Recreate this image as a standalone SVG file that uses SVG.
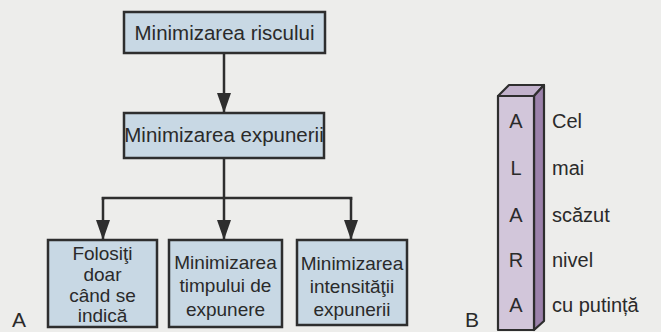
<svg xmlns="http://www.w3.org/2000/svg" width="661" height="332" viewBox="0 0 661 332">
  <style>
    .box { fill: #c8d8e4; stroke: #2e2e2e; stroke-width: 2.5; }
    .t { font-family: "Liberation Sans", Arial, sans-serif; fill: #2a2a2a; text-anchor: middle; }
    .tb { font-size: 20.5px; }
    .ts { font-size: 19px; }
    .col { font-family: "Liberation Sans", Arial, sans-serif; font-size: 20px; fill: #2a2a2a; }
    .lbl { font-family: "Liberation Sans", Arial, sans-serif; font-size: 21px; fill: #2a2a2a; }
    .conn { stroke: #2e2e2e; stroke-width: 2.5; fill: none; }
    .face { stroke: #2e2e2e; stroke-width: 2.2; stroke-linejoin: round; }
  </style>
  <defs>
    <marker id="arr" markerUnits="userSpaceOnUse" markerWidth="20" markerHeight="14" refX="20" refY="7" orient="auto">
      <path d="M0,0 L20,7 L0,14 z" fill="#2e2e2e"/>
    </marker>
  </defs>
  <rect x="0" y="0" width="661" height="332" fill="#ededeb"/>

  <g id="connectors">
    <line class="conn" x1="224" y1="53" x2="224" y2="113" marker-end="url(#arr)"/>
    <line class="conn" x1="224" y1="158" x2="224" y2="240" marker-end="url(#arr)"/>
    <polyline class="conn" points="103,200 103,198 351,198 351,200"/>
    <line class="conn" x1="103" y1="197" x2="103" y2="240" marker-end="url(#arr)"/>
    <line class="conn" x1="351" y1="197" x2="351" y2="240" marker-end="url(#arr)"/>
  </g>

  <g id="node-risc">
    <rect class="box" x="124" y="12" width="201" height="41"/>
    <text class="t tb" x="224.5" y="40">Minimizarea riscului</text>
  </g>
  <g id="node-expunere">
    <rect class="box" x="124" y="113" width="200" height="45"/>
    <text class="t tb" x="224" y="142">Minimizarea expunerii</text>
  </g>
  <g id="node-folositi">
    <rect class="box" x="48" y="240" width="109" height="87"/>
    <text class="t ts" x="102.5" y="260">Folosiţi</text>
    <text class="t ts" x="102.5" y="281">doar</text>
    <text class="t ts" x="102.5" y="302">când se</text>
    <text class="t ts" x="102.5" y="322">indică</text>
  </g>
  <g id="node-timp">
    <rect class="box" x="169" y="240" width="113" height="87"/>
    <text class="t ts" x="225.5" y="269">Minimizarea</text>
    <text class="t ts" x="225.5" y="292">timpului de</text>
    <text class="t ts" x="225.5" y="316">expunere</text>
  </g>
  <g id="node-intensitate">
    <rect class="box" x="297" y="240" width="110" height="85"/>
    <text class="t ts" x="352" y="270">Minimizarea</text>
    <text class="t ts" x="352" y="293">intensităţii</text>
    <text class="t ts" x="352" y="316">expunerii</text>
  </g>

  <text class="lbl" x="12" y="327">A</text>
  <text class="lbl" x="465" y="327">B</text>

  <g id="alara-column">
    <polygon class="face" fill="#c2b2cc" points="498,96 509,85 544,85 534,96"/>
    <polygon class="face" fill="#9c82ab" points="534,96 544,85 544,321 534,330"/>
    <rect class="face" fill="#d2c6da" x="498" y="96" width="36" height="234"/>
    <text class="col" x="516" y="128" text-anchor="middle">A</text>
    <text class="col" x="516" y="175" text-anchor="middle">L</text>
    <text class="col" x="516" y="222" text-anchor="middle">A</text>
    <text class="col" x="516" y="267" text-anchor="middle">R</text>
    <text class="col" x="516" y="312" text-anchor="middle">A</text>
    <text class="col" x="552" y="128">Cel</text>
    <text class="col" x="552" y="175">mai</text>
    <text class="col" x="552" y="222">scăzut</text>
    <text class="col" x="552" y="267">nivel</text>
    <text class="col" x="552" y="312">cu putință</text>
  </g>
</svg>
